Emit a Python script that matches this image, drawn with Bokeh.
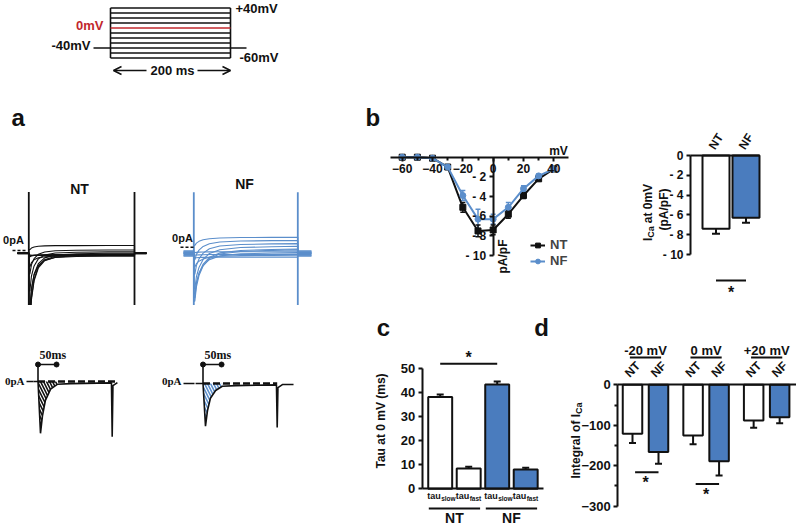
import math
from bokeh.plotting import figure
from bokeh.layouts import row, column
from bokeh.models import (Spacer, Label, Arrow, OpenHead, TeeHead, LinearAxis, Range1d,
                          FixedTicker, Whisker, ColumnDataSource, Legend, LegendItem)
from bokeh.core.properties import value
from bokeh.embed import file_html
from bokeh.resources import INLINE

SANS = "Liberation Sans"
SERIF = "Liberation Serif"
BLACK = "#111111"
WHITE = "#ffffff"
BLUE_LINE = "#5b8ecb"
BLUE_BAR = "#4a7cbe"
RED = "#c1272d"

# ---------------- data ----------------
# voltage protocol
steps_mv = [-60, -50, -40, -30, -20, -10, 0, 10, 20, 30, 40]
hold_mv = -40
step_ms = 200

# a (upper): current traces (pA/pF) for each voltage step
nt_hold = [-0.25, -0.30, -0.30, -0.35, -0.30, -0.25, -0.30, -0.35, -0.30, -0.25, -0.30]
nt_peak = [-0.5, -0.6, -0.7, -1.8, -6.5, -8.5, -8.2, -6.8, -4.5, -2.6, 0.1]
nt_late = [-0.55, -0.50, -0.45, -0.60, -0.60, -0.50, -0.40, -0.30, -0.15, 0.05, 0.55]
nf_hold = [-0.4, -0.6, -0.9, -0.5, -0.7, -1.0, -0.6, -0.8, -0.5, -0.7, -0.9]
nf_peak = [-0.6, -0.9, -1.2, -2.2, -5.2, -6.0, -5.6, -4.6, -3.0, -1.4, 0.2]
nf_late = [-0.5, -0.8, -1.1, -0.9, -0.6, -0.3, -0.2, 0.1, 0.4, 0.75, 1.1]
decay_ms = [0, 2, 5, 10, 18, 30, 50, 90, 150, 200]
nt_decay = [1.0, 1.0, 0.62, 0.36, 0.18, 0.08, 0.03, 0.01, 0.0, 0.0]
nf_decay = [1.0, 1.0, 0.72, 0.50, 0.31, 0.17, 0.08, 0.03, 0.01, 0.0]
nt_transient = 6.5
nf_transient = 6.1

# a (lower): single traces at 0 mV
low_nt_ms = [-12, 0, 6.7, 12, 20, 34, 52, 88, 198, 200, 202, 214]
low_nt_pa = [0.0, 0.0, -7.4, -4.9, -2.7, -1.1, -0.4, -0.3, -0.2, -7.9, -0.6, -0.15]
low_nf_ms = [-20, 0, 6.7, 12, 20, 34, 52, 88, 198, 200, 202, 214, 244]
low_nf_pa = [0.0, 0.0, -6.1, -3.9, -2.1, -1.0, -0.4, -0.3, -0.2, -6.3, -0.6, -0.15, -0.15]
hatch_n = 7
scale_bar_ms = 50

# b: I-V relation
iv_mv = [-60, -50, -40, -30, -20, -10, 0, 10, 20, 30, 40]
iv_nt = [0.0, 0.0, -0.1, -1.0, -5.1, -7.5, -7.4, -5.8, -3.9, -2.2, -1.2]
iv_nt_err = [0.05, 0.05, 0.1, 0.2, 0.5, 0.6, 0.5, 0.4, 0.3, 0.2, 0.1]
iv_nf = [0.0, 0.0, -0.1, -1.0, -3.9, -6.3, -6.3, -5.1, -3.2, -1.9, -1.2]
iv_nf_err = [0.05, 0.05, 0.1, 0.2, 0.5, 1.0, 0.5, 0.5, 0.3, 0.2, 0.1]
iv_xticks = [-60, -40, -20, 0, 20, 40]
iv_xminor = [-50, -30, -10, 10, 30]
iv_yticks = [-10, -8, -6, -4, -2]

# b: I_Ca at 0 mV
b_groups = ["NT", "NF"]
b_ica0 = [-7.4, -6.3]
b_ica0_err = [0.5, 0.5]
b_yticks = [0, -2, -4, -6, -8, -10]

# c: inactivation time constants at 0 mV
c_groups = ["NT", "NT", "NF", "NF"]
c_kinds = ["slow", "fast", "slow", "fast"]
c_tau = [38.3, 8.5, 43.5, 8.0]
c_tau_err = [1.0, 0.7, 1.2, 0.8]
c_yticks = [0, 10, 20, 30, 40, 50]

# d: integral of I_Ca
d_voltages = ["-20 mV", "0 mV", "+20 mV"]
d_nt = [-121, -125, -88]
d_nt_err = [23, 22, 18]
d_nf = [-166, -189, -80]
d_nf_err = [29, 35, 15]
d_sig = ["*", "*", ""]
d_yticks = [0, -100, -200, -300]
d_yminor = [-50, -150, -250]

# ---------------- helpers ----------------
W = {' ': 278, 'a': 556, 'b': 611, 'c': 556, 'd': 611, 'e': 556, 'f': 333, 'g': 611, 'i': 278,
     'l': 278, 'm': 889, 'n': 611, 'o': 611, 'p': 611, 'r': 389, 's': 556, 't': 333, 'u': 611,
     'w': 778, 'I': 278, 'C': 722, 'V': 667, 'A': 722, 'F': 611, 'T': 611, '0': 556, '(': 333,
     ')': 333, '/': 278}


def text_w(s, size):
    return sum(W.get(ch, 556) for ch in s) * size / 1000.0


def rng(va, pa, vb, pb, p0, p1):
    s = (pb - pa) / (vb - va)
    a = va + (p0 - pa) / s
    b = va + (p1 - pa) / s
    return Range1d(min(a, b), max(a, b))


def mapper(va, pa, vb, pb):
    s = (pb - pa) / (vb - va)
    return lambda px: va + (px - pa) / s


def base_fig(L, T, R, B, xr, yr):
    p = figure(width=R - L, height=B - T, x_range=xr, y_range=yr,
               output_backend="svg", toolbar_location=None,
               x_axis_type=None, y_axis_type=None, min_border=0,
               min_border_left=0, min_border_right=0,
               min_border_top=0, min_border_bottom=0)
    p.outline_line_color = None
    p.background_fill_color = None
    p.border_fill_color = None
    return p


def label(p, x, y, text, size=13, align="center", baseline="middle", angle=0.0,
          color=BLACK, font=SANS, style="bold"):
    p.add_layout(Label(x=x, y=y, text=text, text_font=font, text_font_size=f"{size}px",
                       text_font_style=style, text_color=color, text_align=align,
                       text_baseline=baseline, angle=angle))


def rot_label(p, X, Y, x_px, yc_px, parts):
    # parts: (text, size, x shift px, gap after px); drawn bottom-to-top, rotated 90 deg
    total = sum(text_w(t, s) + g for t, s, _, g in parts)
    y_px = yc_px + total / 2.0
    for t, s, sh, g in parts:
        label(p, X(x_px + sh), Y(y_px), t, size=s, align="left", angle=math.pi / 2)
        y_px -= text_w(t, s) + g


def style_axis(ax, size=13, lw=2, tick_out=4):
    ax.axis_line_width = lw
    ax.axis_line_color = BLACK
    ax.major_tick_line_width = lw
    ax.major_tick_line_color = BLACK
    ax.major_tick_out = tick_out
    ax.major_tick_in = 0
    ax.minor_tick_line_width = lw
    ax.minor_tick_line_color = BLACK
    ax.minor_tick_out = 3
    ax.minor_tick_in = 0
    ax.major_label_text_font = SANS
    ax.major_label_text_font_size = f"{size}px"
    ax.major_label_text_font_style = "bold"
    ax.major_label_text_color = BLACK
    ax.major_label_standoff = 3


def baseline_axis(p, bounds):
    ax = LinearAxis(fixed_location=0, bounds=bounds, ticker=FixedTicker(ticks=[]))
    style_axis(ax)
    ax.major_tick_out = 0
    ax.major_label_text_font_size = "0px"
    p.add_layout(ax, "below")


def y_axis(p, xloc, ticks, minor=None, overrides=None, size=13):
    ax = LinearAxis(fixed_location=xloc, bounds=(min(ticks), max(ticks)),
                    ticker=FixedTicker(ticks=ticks, minor_ticks=minor or []))
    if overrides:
        ax.major_label_overrides = overrides
    style_axis(ax, size=size)
    p.add_layout(ax, "left")


# ---------------- protocol schematic ----------------
L, T, R, B = 0, 0, 330, 100
X = mapper(0, 110, step_ms, 230)
Y = mapper(40, 7.5, -60, 57.5)
sch = base_fig(L, T, R, B, rng(0, 110, step_ms, 230, L, R), rng(40, 7.5, -60, 57.5, T, B))
blk = [v for v in steps_mv if v != 0]
sch.segment(x0=[0] * len(blk), x1=[step_ms] * len(blk), y0=blk, y1=blk, line_color=BLACK, line_width=1.6)
sch.segment(x0=[0, step_ms], x1=[0, step_ms], y0=[min(steps_mv)] * 2, y1=[max(steps_mv)] * 2,
            line_color=BLACK, line_width=1.6)
sch.segment(x0=[X(93), step_ms], x1=[0, X(246)], y0=[hold_mv] * 2, y1=[hold_mv] * 2,
            line_color=BLACK, line_width=1.6)
sch.segment(x0=[0], x1=[step_ms], y0=[0], y1=[0], line_color=RED, line_width=1.6)
label(sch, X(235), Y(8), "+40mV", align="left")
label(sch, X(103), Y(25), "0mV", align="right", color=RED)
label(sch, X(90), Y(45), "-40mV", align="right")
label(sch, X(239), Y(57), "-60mV", align="left")
ay = Y(70)
sch.add_layout(Arrow(end=OpenHead(size=8, line_width=1.6, line_color=BLACK), x_start=X(146), y_start=ay,
                     x_end=X(113), y_end=ay, line_width=1.6, line_color=BLACK))
sch.add_layout(Arrow(end=OpenHead(size=8, line_width=1.6, line_color=BLACK), x_start=X(197), y_start=ay,
                     x_end=X(230), y_end=ay, line_width=1.6, line_color=BLACK))
label(sch, X(172), ay, "200 ms")


def traces(hold, peak, late, frac, pre, post):
    xs, ys = [], []
    for h, pk, lt in zip(hold, peak, late):
        xs.append([pre, 0] + decay_ms + [step_ms, post])
        ys.append([h, h] + [lt + f * (pk - lt) for f in frac] + [h, h])
    return xs, ys


# ---------------- a: NT traces ----------------
L, T, R, B = 0, 100, 165, 305
X = mapper(0, 28.3, step_ms, 134.0)
Y = mapper(0, 250, -10, 340)
a_nt = base_fig(L, T, R, B, rng(0, 28.3, step_ms, 134.0, L, R), rng(0, 250, -10, 340, T, B))
xs, ys = traces(nt_hold, nt_peak, nt_late, nt_decay, X(17), X(146))
a_nt.multi_line(xs, ys, line_color=BLACK, line_width=1.1)
a_nt.segment(x0=[0, step_ms], x1=[0, step_ms], y0=[nt_transient] * 2, y1=[-30, -30],
             line_color=BLACK, line_width=1.8)
a_nt.segment(x0=[X(12)], x1=[X(26)], y0=[0], y1=[0], line_color=BLACK, line_width=1.6, line_dash="3 2")
label(a_nt, X(11), Y(117), "a", size=24, align="left")
label(a_nt, X(79), Y(188), "NT", size=14)
label(a_nt, X(13), Y(239), "0pA", size=11)

# ---------------- a: NF traces ----------------
L, T, R, B = 165, 100, 330, 305
X = mapper(0, 193.3, step_ms, 297.3)
Y = mapper(0, 246.7, -10, 336.7)
a_nf = base_fig(L, T, R, B, rng(0, 193.3, step_ms, 297.3, L, R), rng(0, 246.7, -10, 336.7, T, B))
xs, ys = traces(nf_hold, nf_peak, nf_late, nf_decay, X(183), X(311))
a_nf.multi_line(xs, ys, line_color=BLUE_LINE, line_width=1.1)
a_nf.segment(x0=[0, step_ms], x1=[0, step_ms], y0=[nf_transient] * 2, y1=[-30, -30],
             line_color=BLUE_LINE, line_width=1.8)
a_nf.segment(x0=[X(180)], x1=[X(193)], y0=[0], y1=[0], line_color=BLACK, line_width=1.6, line_dash="3 2")
label(a_nf, X(244), Y(183), "NF", size=14)
label(a_nf, X(182), Y(237), "0pA", size=11)

# ---------------- a: lower NT ----------------
L, T, R, B = 0, 305, 160, 524
X = mapper(0, 37.5, step_ms, 111.7)
Y = mapper(0, 381, -10, 451)
l_nt = base_fig(L, T, R, B, rng(0, 37.5, step_ms, 111.7, L, R), rng(0, 381, -10, 451, T, B))
l_nt.varea(x=low_nt_ms[1:hatch_n], y1=low_nt_pa[1:hatch_n], y2=[0] * (hatch_n - 1),
           fill_alpha=0, hatch_pattern="\\", hatch_color=BLACK, hatch_weight=1.6, hatch_scale=6)
l_nt.line(low_nt_ms, low_nt_pa, line_color=BLACK, line_width=1.6)
l_nt.line([0, X(117)], [0, 0], line_color=BLACK, line_width=2.5, line_dash="7 3")
sb_y = Y(364)
l_nt.line([0, 0], [0, sb_y], line_color=BLACK, line_width=1.6)
l_nt.line([0, scale_bar_ms], [sb_y, sb_y], line_color=BLACK, line_width=1.6)
l_nt.scatter([0, scale_bar_ms], [sb_y, sb_y], size=5, color=BLACK)
label(l_nt, X(39), Y(354), "50ms", size=12, align="left", font=SERIF)
label(l_nt, X(24), Y(380), "0pA", size=11, align="right", font=SERIF)
l_nt.line([X(26), X(33)], [0, 0], line_color=BLACK, line_width=1.6)

# ---------------- a: lower NF ----------------
L, T, R, B = 160, 305, 330, 524
X = mapper(0, 202.5, step_ms, 276.7)
Y = mapper(0, 383, -10, 453)
l_nf = base_fig(L, T, R, B, rng(0, 202.5, step_ms, 276.7, L, R), rng(0, 383, -10, 453, T, B))
l_nf.varea(x=low_nf_ms[1:hatch_n], y1=low_nf_pa[1:hatch_n], y2=[0] * (hatch_n - 1),
           fill_alpha=0, hatch_pattern="\\", hatch_color=BLUE_LINE, hatch_weight=1.6, hatch_scale=6)
l_nf.line(low_nf_ms, low_nf_pa, line_color=BLACK, line_width=1.6)
l_nf.line([0, step_ms], [0, 0], line_color=BLACK, line_width=2.5, line_dash="7 3")
l_nf.line([X(183), X(194)], [0, 0], line_color=BLACK, line_width=1.6)
sb_y = Y(364)
l_nf.line([0, 0], [0, sb_y], line_color=BLACK, line_width=1.6)
l_nf.line([0, scale_bar_ms], [sb_y, sb_y], line_color=BLACK, line_width=1.6)
l_nf.scatter([0, scale_bar_ms], [sb_y, sb_y], size=5, color=BLACK)
label(l_nf, X(204), Y(354), "50ms", size=12, align="left", font=SERIF)
label(l_nf, X(181), Y(380), "0pA", size=11, align="right", font=SERIF)

# ---------------- b: I-V ----------------
L, T, R, B = 355, 100, 575, 305
X = mapper(-60, 401.7, 40, 553.3)
Y = mapper(0, 156.7, -10, 255)
iv = base_fig(L, T, R, B, rng(-60, 401.7, 40, 553.3, L, R), rng(0, 156.7, -10, 255, T, B))
xax = LinearAxis(fixed_location=0, bounds=(X(390), X(568)),
                 ticker=FixedTicker(ticks=iv_xticks, minor_ticks=iv_xminor))
style_axis(xax, size=12)
iv.add_layout(xax, "below")
yax = LinearAxis(fixed_location=0, bounds=(min(iv_yticks), 0), ticker=FixedTicker(ticks=iv_yticks),
                 major_label_overrides={t: "- " + str(abs(t)) for t in iv_yticks})
style_axis(yax, size=12)
iv.add_layout(yax, "left")
src_nt = ColumnDataSource(dict(x=iv_mv, y=iv_nt, lo=[v - e for v, e in zip(iv_nt, iv_nt_err)],
                               hi=[v + e for v, e in zip(iv_nt, iv_nt_err)]))
src_nf = ColumnDataSource(dict(x=iv_mv, y=iv_nf, lo=[v - e for v, e in zip(iv_nf, iv_nf_err)],
                               hi=[v + e for v, e in zip(iv_nf, iv_nf_err)]))
iv.add_layout(Whisker(source=src_nf, base="x", lower="lo", upper="hi", line_color=BLUE_LINE, line_width=1.5,
                      upper_head=TeeHead(size=5, line_color=BLUE_LINE, line_width=1.5),
                      lower_head=TeeHead(size=5, line_color=BLUE_LINE, line_width=1.5)))
iv.add_layout(Whisker(source=src_nt, base="x", lower="lo", upper="hi", line_color=BLACK, line_width=1.5,
                      upper_head=TeeHead(size=5, line_color=BLACK, line_width=1.5),
                      lower_head=TeeHead(size=5, line_color=BLACK, line_width=1.5)))
l1 = iv.line("x", "y", source=src_nt, line_color=BLACK, line_width=2)
s1 = iv.scatter("x", "y", source=src_nt, marker="square", size=6, color=BLACK)
l2 = iv.line("x", "y", source=src_nf, line_color=BLUE_LINE, line_width=2)
s2 = iv.scatter("x", "y", source=src_nf, marker="circle", size=6, color=BLUE_LINE)
leg = Legend(items=[LegendItem(label="NT", renderers=[l1, s1]), LegendItem(label="NF", renderers=[l2, s2])],
             location=(175, 37), glyph_width=15, glyph_height=12, label_standoff=5, spacing=1,
             padding=0, margin=0, border_line_color=None, background_fill_alpha=0,
             label_text_font=SANS, label_text_font_size="13px", label_text_font_style="bold",
             label_height=12)
iv.add_layout(leg)
label(iv, X(365), Y(117), "b", size=24, align="left")
label(iv, X(558), Y(150), "mV", size=12)
label(iv, X(502), Y(256), "pA/pF", size=12, angle=math.pi / 2)

# ---------------- b: bar I_Ca at 0 mV ----------------
L, T, R, B = 575, 100, 796, 305
AX = 690
b_pos = list(range(len(b_groups)))
X = mapper(0, 715.5, 1, 745.5)
Y = mapper(0, 155, -10, 254)
bb = base_fig(L, T, R, B, rng(0, 715.5, 1, 745.5, L, R), rng(0, 155, -10, 254, T, B))
y_axis(bb, X(AX), b_yticks, overrides={t: ("- " + str(abs(t)) if t else "0") for t in b_yticks}, size=12)
bw = 0.9
bb.vbar(x=b_pos, top=b_ica0, bottom=0, width=bw, fill_color=[WHITE if g == "NT" else BLUE_BAR for g in b_groups],
        line_color=BLACK, line_width=2)
bsrc = ColumnDataSource(dict(x=b_pos, lo=[v - e for v, e in zip(b_ica0, b_ica0_err)], hi=b_ica0))
bb.add_layout(Whisker(source=bsrc, base="x", lower="lo", upper="hi", line_color=BLACK, line_width=2,
                      lower_head=TeeHead(size=8, line_color=BLACK, line_width=2), upper_head=None))
baseline_axis(bb, (X(AX), b_pos[-1] + bw / 2))
for xp, g in zip(b_pos, b_groups):
    label(bb, xp, Y(141), g, size=12, angle=1.0)
bb.line([b_pos[0], b_pos[-1]], [Y(280), Y(280)], line_color=BLACK, line_width=2)
label(bb, sum(b_pos) / len(b_pos), Y(292), "*", size=16)
rot_label(bb, X, Y, 647, 212, [("I", 12, 0, 0), ("Ca", 9, 3, 3), ("at 0mV", 12, 0, 0)])
rot_label(bb, X, Y, 663, 209, [("(pA/pF)", 12, 0, 0)])

# ---------------- c: tau ----------------
L, T, R, B = 355, 305, 552, 524
AX = 421.7
c_pos = list(range(len(c_tau)))
X = mapper(0, 439.7, 1, 468.2)
Y = mapper(0, 488.3, 50, 368.3)
cc = base_fig(L, T, R, B, rng(0, 439.7, 1, 468.2, L, R), rng(0, 488.3, 50, 368.3, T, B))
y_axis(cc, X(AX), c_yticks, size=13)
cw = 0.84
cc.vbar(x=c_pos, top=c_tau, bottom=0, width=cw,
        fill_color=[WHITE if g == "NT" else BLUE_BAR for g in c_groups], line_color=BLACK, line_width=2)
csrc = ColumnDataSource(dict(x=c_pos, lo=c_tau, hi=[v + e for v, e in zip(c_tau, c_tau_err)]))
cc.add_layout(Whisker(source=csrc, base="x", lower="lo", upper="hi", line_color=BLACK, line_width=2,
                      upper_head=TeeHead(size=7, line_color=BLACK, line_width=2), lower_head=None))
baseline_axis(cc, (X(AX), c_pos[-1] + cw / 2 + 0.2))
cc.text(x=c_pos, y=[Y(495)] * len(c_pos), text=["tau"] * len(c_pos), text_font=value(SANS),
        text_font_size="9px", text_font_style="bold", text_align="right", text_baseline="middle",
        text_color=BLACK, x_offset=0.5)
cc.text(x=c_pos, y=[Y(498)] * len(c_pos), text=c_kinds, text_font=value(SANS),
        text_font_size="6.5px", text_font_style="bold", text_align="left", text_baseline="middle",
        text_color=BLACK, x_offset=1)
for g in ["NT", "NF"]:
    ps = [p for p, gg in zip(c_pos, c_groups) if gg == g]
    cc.line([min(ps) - 0.4, max(ps) + 0.4], [Y(508), Y(508)], line_color=BLACK, line_width=2)
    label(cc, sum(ps) / len(ps), Y(517), g, size=14)
slow = [p for p, k in zip(c_pos, c_kinds) if k == "slow"]
top_slow = max(v + e for v, e, k in zip(c_tau, c_tau_err, c_kinds) if k == "slow")
cc.line([slow[0], slow[-1]], [top_slow + 7.4, top_slow + 7.4], line_color=BLACK, line_width=2)
label(cc, (slow[0] + slow[-1]) / 2, top_slow + 10.2, "*", size=16)
rot_label(cc, X, Y, 380, 420, [("Tau at 0 mV (ms)", 12, 0, 0)])
label(cc, X(383), Y(327), "c", size=24)
label(cc, X(541), Y(327), "d", size=24)

# ---------------- d: integral ----------------
L, T, R, B = 552, 305, 796, 524
AX = 617.3
gap = 0.33
d_nt_pos = [g * (2 + gap) for g in range(len(d_voltages))]
d_nf_pos = [g * (2 + gap) + 1 for g in range(len(d_voltages))]
X = mapper(0, 632, 1, 658)
Y = mapper(0, 384.3, -300, 505.7)
dd = base_fig(L, T, R, B, rng(0, 632, 1, 658, L, R), rng(0, 384.3, -300, 505.7, T, B))
y_axis(dd, X(AX), d_yticks, minor=d_yminor, size=13)
dw = 0.75
dd.vbar(x=d_nt_pos, top=d_nt, bottom=0, width=dw, fill_color=WHITE, line_color=BLACK, line_width=2)
dd.vbar(x=d_nf_pos, top=d_nf, bottom=0, width=dw, fill_color=BLUE_BAR, line_color=BLACK, line_width=2)
dsrc = ColumnDataSource(dict(x=d_nt_pos + d_nf_pos, hi=d_nt + d_nf,
                             lo=[v - e for v, e in zip(d_nt + d_nf, d_nt_err + d_nf_err)]))
dd.add_layout(Whisker(source=dsrc, base="x", lower="lo", upper="hi", line_color=BLACK, line_width=2,
                      lower_head=TeeHead(size=7, line_color=BLACK, line_width=2), upper_head=None))
baseline_axis(dd, (X(AX), X(796)))
for i, vlab in enumerate(d_voltages):
    c0 = (d_nt_pos[i] + d_nf_pos[i]) / 2
    label(dd, c0, Y(350), vlab, size=13)
    dd.line([c0 - 0.6, c0 + 0.6], [Y(357), Y(357)], line_color=BLACK, line_width=2)
    label(dd, d_nt_pos[i], Y(369), "NT", size=12, angle=math.pi / 4)
    label(dd, d_nf_pos[i], Y(369), "NF", size=12, angle=math.pi / 4)
    if d_sig[i]:
        low = min(d_nt[i] - d_nt_err[i], d_nf[i] - d_nf_err[i])
        dd.line([d_nt_pos[i] + 0.1, d_nf_pos[i]], [low - 21, low - 21], line_color=BLACK, line_width=2)
        label(dd, c0, low - 46, d_sig[i], size=16)
rot_label(dd, X, Y, 575, 440, [("Integral of I", 12, 0, 0), ("Ca", 9, 3, 0)])

# ---------------- layout ----------------
r1 = row(sch, Spacer(width=796 - 330, height=100))
r2 = row(a_nt, a_nf, Spacer(width=25, height=205), iv, bb)
r3 = row(l_nt, l_nf, Spacer(width=25, height=219), cc, dd)
lay = column(r1, r2, r3)

open("out.html", "w").write(file_html(lay, INLINE))
